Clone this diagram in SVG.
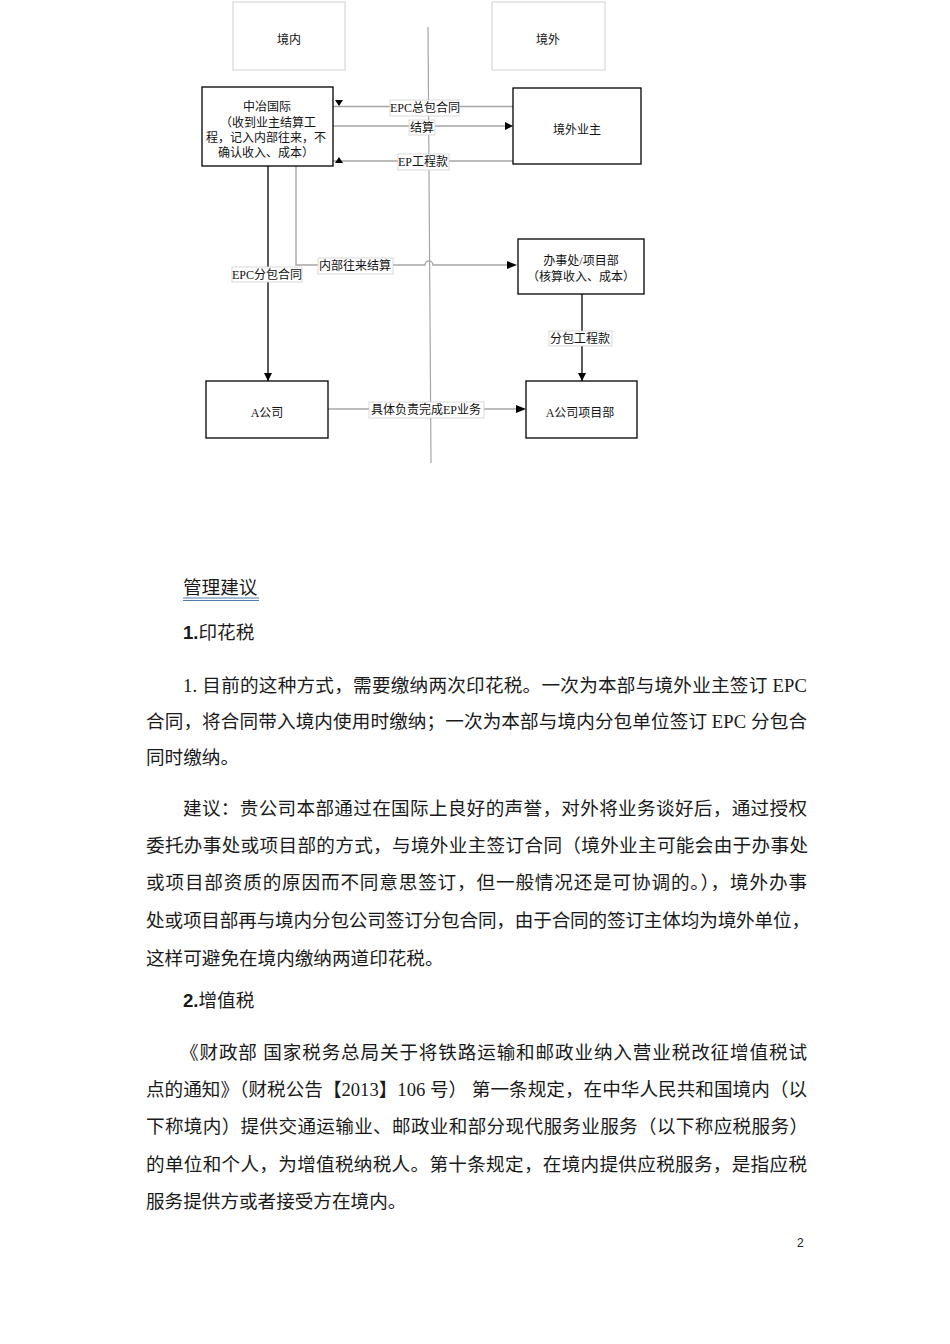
<svg xmlns="http://www.w3.org/2000/svg" width="950" height="1344" viewBox="0 0 950 1344">
<style>
.bg{fill:#ffffff}
.zone{fill:#ffffff;stroke:#d0d0d0;stroke-width:1}
.node{fill:#ffffff;stroke:#000000;stroke-width:1.3}
.t{font-family:"Liberation Serif","Noto Sans CJK SC",serif;font-size:12px;fill:#111;text-anchor:middle}
.lbl{fill:#ffffff;stroke:#cfcfcf;stroke-width:0.8}
.gl{fill:none;stroke:#a6a6a6;stroke-width:1.4}
.bl{fill:none;stroke:#000000;stroke-width:1.3}
.body{font-family:"Liberation Serif","Noto Sans CJK SC",serif;font-size:18.6px;fill:#1a1a1a}
.num{font-family:"Liberation Sans","Noto Sans CJK SC",sans-serif;font-weight:bold}
</style>
<defs>
<marker id="arr" viewBox="0 0 10 10" refX="10" refY="5" markerWidth="8" markerHeight="8" markerUnits="userSpaceOnUse" orient="auto">
<path d="M0,0 L10,5 L0,10 Z" fill="#000"/>
</marker>
</defs>
<rect class="bg" x="0" y="0" width="950" height="1344"/>

<g id="zone-inside">
<rect class="zone" x="233" y="2" width="112" height="68"/>
<text class="t" x="289" y="44">境内</text>
</g>
<g id="zone-outside">
<rect class="zone" x="492" y="2" width="113" height="68"/>
<text class="t" x="548" y="44">境外</text>
</g>

<g id="connectors">
<line x1="428" y1="27" x2="431" y2="463" stroke="#a6a6a6" stroke-width="1.2"/>
<line class="gl" x1="513" y1="106.5" x2="333" y2="106.5"/>
<polygon points="335,100 343,100 339,106" fill="#000"/>
<line class="gl" x1="333" y1="126" x2="505" y2="126"/>
<polygon points="505,122 513,126 505,130" fill="#000"/>
<line class="gl" x1="513" y1="161" x2="333" y2="161"/>
<polygon points="335,163 343,163 339,157" fill="#000"/>
<line class="bl" x1="268" y1="166" x2="268" y2="381" marker-end="url(#arr)"/>
<path class="gl" d="M296,166 V265 H425 A4,4 0 0 1 433,265 H507"/>
<polygon points="507,261 517,265 507,269" fill="#000"/>
<line class="bl" x1="582" y1="294" x2="582" y2="381" marker-end="url(#arr)"/>
<line class="gl" x1="328" y1="409" x2="516" y2="409"/>
<polygon points="516,405 526,409 516,413" fill="#000"/>

<rect class="lbl" x="390" y="100" width="69" height="16"/>
<text class="t" x="425" y="112">EPC总包合同</text>
<rect class="lbl" x="409" y="120" width="26" height="15"/>
<text class="t" x="422" y="132">结算</text>
<rect class="lbl" x="398" y="154" width="51" height="16"/>
<text class="t" x="423" y="166">EP工程款</text>
<rect class="lbl" x="232" y="267" width="70" height="15"/>
<text class="t" x="267" y="279">EPC分包合同</text>
<rect class="lbl" x="318" y="258" width="75" height="16"/>
<text class="t" x="355" y="270">内部往来结算</text>
<rect class="lbl" x="549" y="331" width="63" height="15"/>
<text class="t" x="580" y="343">分包工程款</text>
<rect class="lbl" x="369" y="402" width="115" height="16"/>
<text class="t" x="426" y="414">具体负责完成EP业务</text>
</g>

<g id="node-zhongye">
<rect class="node" x="202" y="87" width="131" height="79"/>
<text class="t" x="267" y="111">中冶国际</text>
<text class="t" x="268" y="127">（收到业主结算工</text>
<text class="t" x="266" y="142">程，记入内部往来，不</text>
<text class="t" x="266" y="157">确认收入、成本）</text>
</g>
<g id="node-owner">
<rect class="node" x="513" y="88" width="128" height="76"/>
<text class="t" x="577" y="134">境外业主</text>
</g>
<g id="node-office">
<rect class="node" x="518" y="239" width="126" height="55"/>
<text class="t" x="581" y="265">办事处/项目部</text>
<text class="t" x="581" y="281">（核算收入、成本）</text>
</g>
<g id="node-a">
<rect class="node" x="206" y="381" width="122" height="57"/>
<text class="t" x="267" y="417">A公司</text>
</g>
<g id="node-a-project">
<rect class="node" x="526" y="381" width="111" height="57"/>
<text class="t" x="580" y="417">A公司项目部</text>
</g>

<g id="body-text">
<text class="body" x="183" y="594">管理建议</text>
<line x1="183" y1="598" x2="259" y2="598" stroke="#4f7cac" stroke-width="1"/>
<line x1="183" y1="600.5" x2="259" y2="600.5" stroke="#4f7cac" stroke-width="1"/>
<text class="body" x="183" y="639"><tspan class="num">1.</tspan>印花税</text>
<text class="body" x="183" y="692" textLength="624" lengthAdjust="spacing">1.  目前的这种方式，需要缴纳两次印花税。一次为本部与境外业主签订 EPC</text>
<text class="body" x="146" y="728" textLength="661" lengthAdjust="spacing">合同，将合同带入境内使用时缴纳；一次为本部与境内分包单位签订 EPC 分包合</text>
<text class="body" x="146" y="764">同时缴纳。</text>
<text class="body" x="183" y="815" textLength="624" lengthAdjust="spacing">建议：贵公司本部通过在国际上良好的声誉，对外将业务谈好后，通过授权</text>
<text class="body" x="146" y="852" textLength="662" lengthAdjust="spacing">委托办事处或项目部的方式，与境外业主签订合同（境外业主可能会由于办事处</text>
<text class="body" x="146" y="889" textLength="661" lengthAdjust="spacing">或项目部资质的原因而不同意思签订，但一般情况还是可协调的。），境外办事</text>
<text class="body" x="146" y="927" textLength="664" lengthAdjust="spacing">处或项目部再与境内分包公司签订分包合同，由于合同的签订主体均为境外单位，</text>
<text class="body" x="146" y="965">这样可避免在境内缴纳两道印花税。</text>
<text class="body" x="183" y="1007"><tspan class="num">2.</tspan>增值税</text>
<text class="body" x="180" y="1059" textLength="627" lengthAdjust="spacing">《财政部 国家税务总局关于将铁路运输和邮政业纳入营业税改征增值税试</text>
<text class="body" x="146" y="1096" textLength="661" lengthAdjust="spacing">点的通知》（财税公告【2013】106 号） 第一条规定，在中华人民共和国境内（以</text>
<text class="body" x="146" y="1133" textLength="662" lengthAdjust="spacing">下称境内）提供交通运输业、邮政业和部分现代服务业服务（以下称应税服务）</text>
<text class="body" x="146" y="1171" textLength="661" lengthAdjust="spacing">的单位和个人，为增值税纳税人。第十条规定，在境内提供应税服务，是指应税</text>
<text class="body" x="146" y="1208">服务提供方或者接受方在境内。</text>
<text x="797" y="1247" font-family="Liberation Sans, sans-serif" font-size="12" fill="#222">2</text>
</g>
</svg>
